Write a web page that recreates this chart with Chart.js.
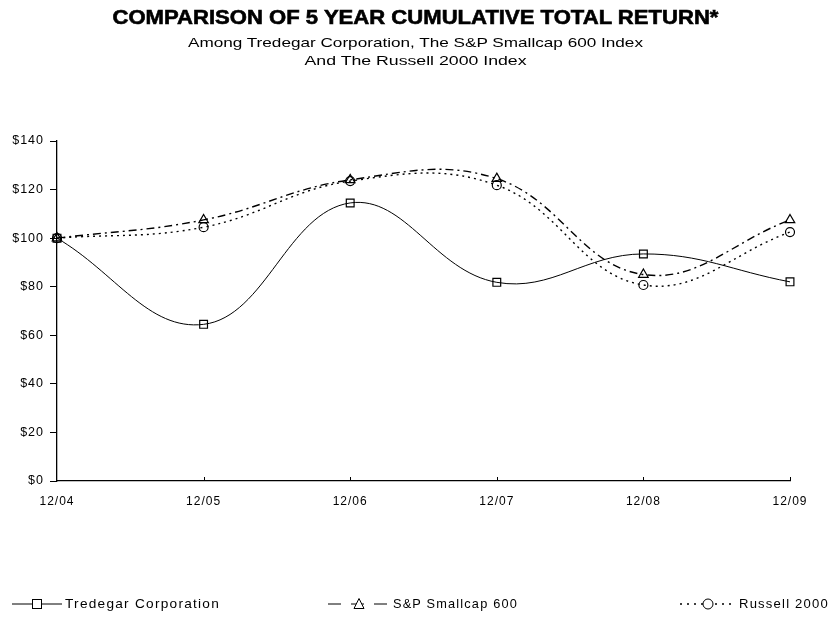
<!DOCTYPE html>
<html>
<head>
<meta charset="utf-8">
<script src="https://cdn.jsdelivr.net/npm/chart.js@4"></script>
<style>
  html, body { margin: 0; padding: 0; background: #fff; }
  #wrap { position: relative; width: 831px; height: 619px; overflow: hidden; font-family: "Liberation Sans", Arial, sans-serif; }
  canvas { position: absolute; left: 0; top: 0; }
  .ctr { position: absolute; left: 0; width: 831px; text-align: center; color: #000; white-space: nowrap; }
  .ctr span { display: inline-block; transform-origin: center; }
  #title { top: 6px; font-weight: bold; font-size: 20px; -webkit-text-stroke: 0.6px #000; }
  #sub1 { top: 35px; font-size: 13px; }
  #sub2 { top: 53px; font-size: 13px; }
  #legend { position: absolute; top: 596px; left: 0; width: 831px; height: 18px; font-size: 13px; color: #000; }
  .li { position: absolute; top: 0; display: flex; align-items: center; white-space: nowrap; letter-spacing: 1.2px; }
  .li svg { margin-right: 3px; }
</style>
</head>
<body>
<div id="wrap">
  <canvas id="c" width="831" height="619"></canvas>
  <div class="ctr" id="title"><span data-w="606">COMPARISON OF 5 YEAR CUMULATIVE TOTAL RETURN*</span></div>
  <div class="ctr" id="sub1"><span data-w="455">Among Tredegar Corporation, The S&amp;P Smallcap 600 Index</span></div>
  <div class="ctr" id="sub2"><span data-w="222">And The Russell 2000 Index</span></div>
  <div id="legend">
    <div class="li" style="left:12px"><svg width="50" height="14"><line x1="0" y1="7" x2="50" y2="7" stroke="#000" stroke-width="1"/><rect x="20.5" y="2.5" width="9" height="9" fill="#fff" stroke="#000"/></svg><span data-w="155">Tredegar Corporation</span></div>
    <div class="li" style="left:328px"><svg width="62" height="14"><line x1="0" y1="7" x2="62" y2="7" stroke="#000" stroke-width="1" stroke-dasharray="13,10"/><polygon points="31,1.5 36,11.5 26,11.5" fill="#fff" stroke="#000"/></svg><span data-w="125">S&amp;P Smallcap 600</span></div>
    <div class="li" style="left:680px"><svg width="56" height="14"><line x1="0" y1="7" x2="56" y2="7" stroke="#000" stroke-width="1.3" stroke-dasharray="2,5"/><circle cx="28" cy="7" r="5" fill="#fff" stroke="#000"/></svg><span data-w="90">Russell 2000</span></div>
  </div>
</div>
<script>
const categories = ["12/04", "12/05", "12/06", "12/07", "12/08", "12/09"];
const tredegar = [100, 64.5, 114.5, 81.8, 93.5, 82.0];
const sp600 = [100, 107.5, 124.0, 124.5, 85.0, 107.5];
const russell2000 = [100, 104.5, 123.5, 121.8, 80.7, 102.5];
const yTicks = [0, 20, 40, 60, 80, 100, 120, 140];

// fit text widths
document.querySelectorAll('span[data-w]').forEach(el => {
  const target = +el.dataset.w;
  const w = el.getBoundingClientRect().width;
  if (w > 0) el.style.transform = 'scaleX(' + (target / w).toFixed(3) + ')';
  if (el.parentElement.classList.contains('li')) el.style.transformOrigin = 'left center';
});

const innerTicks = {
  id: 'innerTicks',
  beforeDraw(chart) { try { chart.ctx.letterSpacing = '1px'; } catch (e) {} },
  afterDatasetsDraw(chart) {
    const x = chart.scales.x, ctx = chart.ctx;
    const bottom = chart.chartArea.bottom;
    ctx.save();
    ctx.strokeStyle = '#000';
    ctx.lineWidth = 1;
    for (let i = 1; i < categories.length; i++) {
      const px = Math.round(x.getPixelForValue(i)) + 0.5;
      ctx.beginPath();
      ctx.moveTo(px, bottom);
      ctx.lineTo(px, bottom - 4);
      ctx.stroke();
    }
    ctx.restore();
  }
};

new Chart(document.getElementById('c'), {
  type: 'line',
  data: {
    labels: categories,
    datasets: [
      { label: 'Tredegar Corporation', data: tredegar, borderColor: '#000', borderWidth: 1, tension: 0.4,
        pointStyle: 'rect', pointRadius: 5.5, pointBackgroundColor: 'rgba(255,255,255,0)', pointBorderColor: '#000', pointBorderWidth: 1.2 },
      { label: 'S&P Smallcap 600', data: sp600, borderColor: '#000', borderWidth: 1.4, borderDash: [8, 4, 2, 4], tension: 0.4,
        pointStyle: 'triangle', pointRadius: 5.5, pointBackgroundColor: 'rgba(255,255,255,0)', pointBorderColor: '#000', pointBorderWidth: 1.2 },
      { label: 'Russell 2000', data: russell2000, borderColor: '#000', borderWidth: 1.4, borderDash: [2, 4], tension: 0.4,
        pointStyle: 'circle', pointRadius: 4.5, pointBackgroundColor: 'rgba(255,255,255,0)', pointBorderColor: '#000', pointBorderWidth: 1.2 }
    ]
  },
  options: {
    responsive: false,
    animation: false,
    layout: { padding: { left: 0, top: 141, right: 41, bottom: 108 } },
    plugins: { legend: { display: false }, title: { display: false }, tooltip: { enabled: false } },
    scales: {
      x: {
        offset: false,
        grid: { display: true, drawOnChartArea: false, drawTicks: false },
        border: { display: true, color: '#000', width: 1.3 },
        ticks: { color: '#000', font: { family: 'Liberation Sans', size: 12 }, padding: 13, maxRotation: 0, autoSkip: false },
        afterFit(s) { s.height = 30; }
      },
      y: {
        min: 0, max: 140,
        afterBuildTicks(s) { s.ticks = yTicks.map(v => ({ value: v })); },
        grid: { display: true, drawOnChartArea: false, drawTicks: true, tickLength: 7, color: '#000' },
        border: { display: true, color: '#000', width: 1.3 },
        ticks: { color: '#000', font: { family: 'Liberation Sans', size: 12.5 }, padding: 6, callback: v => '$' + v },
        afterFit(s) { s.width = 57; }
      }
    }
  },
  plugins: [innerTicks]
});
</script>
</body>
</html>
